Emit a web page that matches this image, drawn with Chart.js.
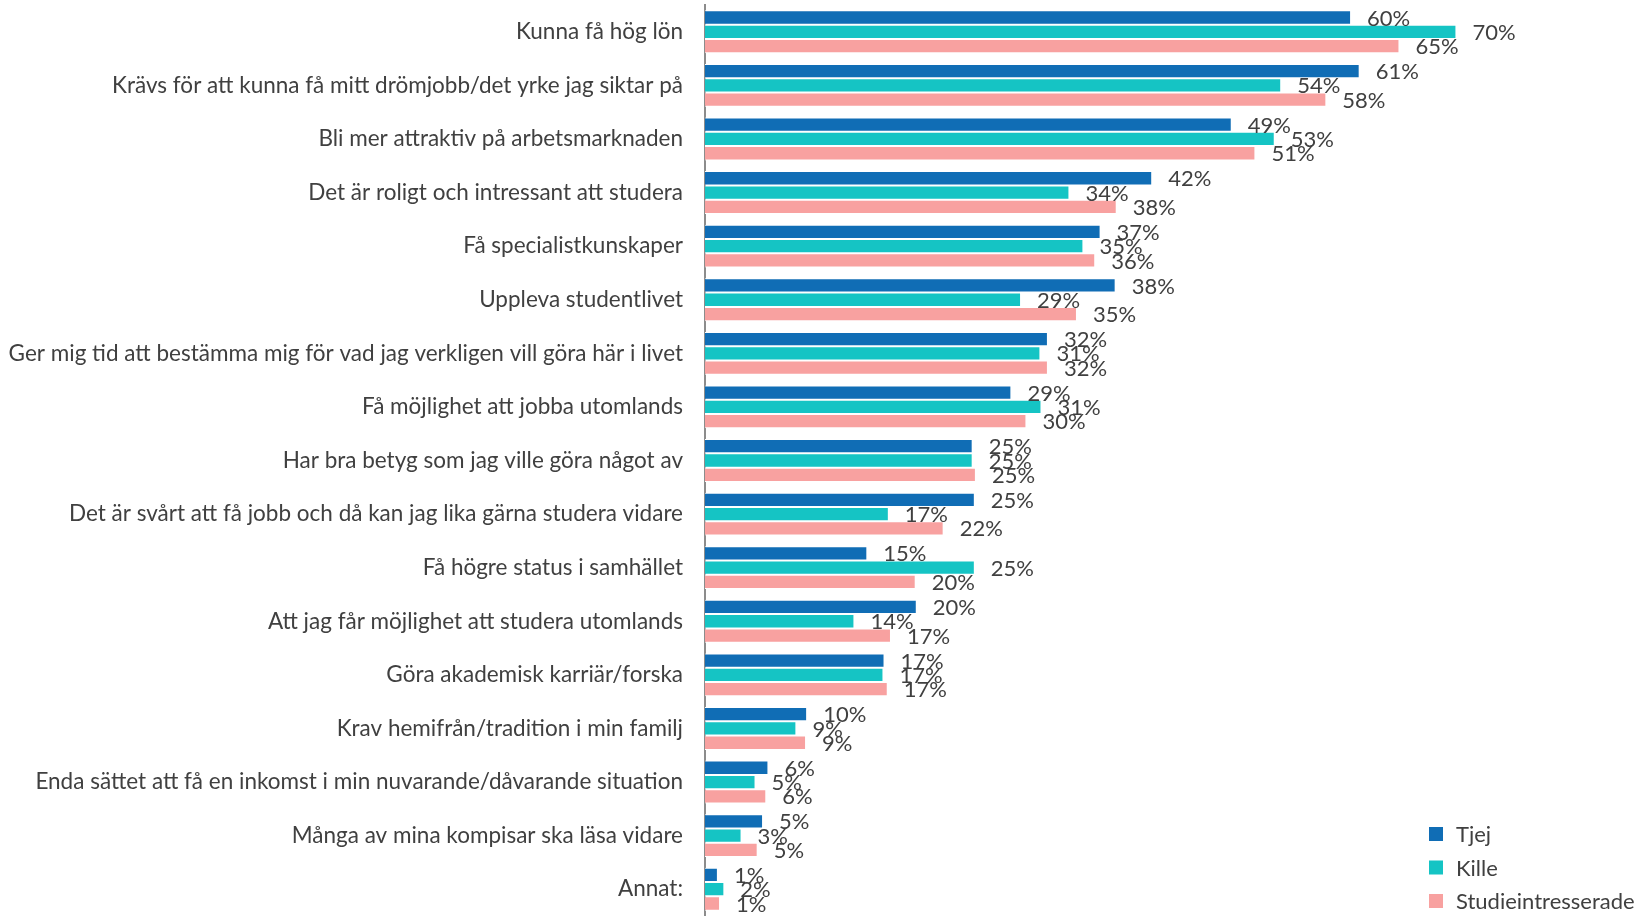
<!DOCTYPE html>
<html>
<head>
<meta charset="utf-8">
<script src="https://cdn.jsdelivr.net/npm/chart.js@4.4.1/dist/chart.umd.min.js"></script>
<style>
  body { margin: 0; background: #fff; }
  #wrap { width: 1639px; height: 916px; position: relative; }
</style>
</head>
<body>
<div id="wrap"><canvas id="myChart"></canvas></div>
<script>
const labels = [
  "Kunna få hög lön",
  "Krävs för att kunna få mitt drömjobb/det yrke jag siktar på",
  "Bli mer attraktiv på arbetsmarknaden",
  "Det är roligt och intressant att studera",
  "Få specialistkunskaper",
  "Uppleva studentlivet",
  "Ger mig tid att bestämma mig för vad jag verkligen vill göra här i livet",
  "Få möjlighet att jobba utomlands",
  "Har bra betyg som jag ville göra något av",
  "Det är svårt att få jobb och då kan jag lika gärna studera vidare",
  "Få högre status i samhället",
  "Att jag får möjlighet att studera utomlands",
  "Göra akademisk karriär/forska",
  "Krav hemifrån/tradition i min familj",
  "Enda sättet att få en inkomst i min nuvarande/dåvarande situation",
  "Många av mina kompisar ska läsa vidare",
  "Annat:"
];

const seriesNames = ["Tjej", "Kille", "Studieintresserade"];
const tjej = [60.1, 60.9, 49.0, 41.6, 36.8, 38.2, 31.9, 28.5, 24.9, 25.1, 15.1, 19.7, 16.7, 9.5, 5.9, 5.4, 1.2];
const kille = [69.9, 53.6, 53.0, 33.9, 35.2, 29.4, 31.2, 31.3, 24.9, 17.1, 25.1, 13.9, 16.6, 8.5, 4.7, 3.4, 1.8];
const studie = [64.6, 57.8, 51.2, 38.3, 36.3, 34.6, 31.9, 29.9, 25.2, 22.2, 19.6, 17.3, 17.0, 9.4, 5.7, 4.9, 1.4];

const colors = ['#106db5', '#15c4c4', '#f8a1a0'];
const textColor = '#404040';
const fontFamily = 'Lato, "Liberation Sans", sans-serif';

// percent labels to the right of every bar
const valueLabels = {
  id: 'valueLabels',
  afterDatasetsDraw(chart) {
    const ctx = chart.ctx;
    ctx.save();
    ctx.font = '22px ' + fontFamily;
    ctx.fillStyle = textColor;
    ctx.textAlign = 'left';
    ctx.textBaseline = 'middle';
    chart.data.datasets.forEach((ds, i) => {
      chart.getDatasetMeta(i).data.forEach((bar, j) => {
        ctx.fillText(Math.round(ds.data[j]) + '%', bar.x + 16, bar.y + 1);
      });
    });
    ctx.restore();
  }
};

// legend in the lower right corner, one entry per row
const cornerLegend = {
  id: 'cornerLegend',
  afterDraw(chart) {
    const ctx = chart.ctx;
    ctx.save();
    ctx.font = '22px ' + fontFamily;
    ctx.textBaseline = 'middle';
    chart.data.datasets.forEach((ds, i) => {
      const y = 834 + i * 33.5;
      ctx.fillStyle = ds.backgroundColor;
      ctx.fillRect(1429, y - 7, 14, 14);
      ctx.fillStyle = textColor;
      ctx.fillText(ds.label, 1456, y + 1);
    });
    ctx.restore();
  }
};

new Chart("myChart", {
  type: "bar",
  data: {
    labels: labels,
    datasets: [
      { label: seriesNames[0], data: tjej, backgroundColor: colors[0] },
      { label: seriesNames[1], data: kille, backgroundColor: colors[1] },
      { label: seriesNames[2], data: studie, backgroundColor: colors[2] }
    ]
  },
  options: {
    indexAxis: 'y',
    responsive: true,
    maintainAspectRatio: false,
    animation: false,
    layout: { padding: { top: 5, right: 74, bottom: 0, left: 0 } },
    datasets: {
      bar: { categoryPercentage: 0.8, barPercentage: 1.0, borderWidth: 1, borderColor: '#ffffff' }
    },
    scales: {
      x: { display: false, min: 0, max: 80 },
      y: {
        afterFit: function(scale) {
          scale.width = 705;
          scale.paddingTop = 0;
          scale.paddingBottom = 0;
        },
        grid: { display: false, drawTicks: false },
        border: { display: true, color: '#8c8c8c', width: 2 },
        ticks: { color: textColor, padding: 22, font: { family: fontFamily, size: 22.5 } }
      }
    },
    plugins: {
      legend: { display: false },
      tooltip: { enabled: false }
    }
  },
  plugins: [valueLabels, cornerLegend]
});
</script>
</body>
</html>
